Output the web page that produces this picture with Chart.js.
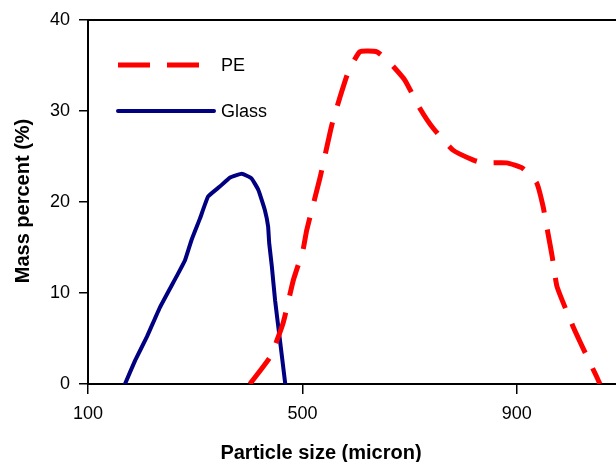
<!DOCTYPE html>
<html>
<head>
<meta charset="utf-8">
<script src="https://cdn.jsdelivr.net/npm/chart.js@4"></script>
<style>
  html, body { margin: 0; padding: 0; background: #fff; }
  #wrap { width: 616px; height: 462px; }
</style>
</head>
<body>
<div id="wrap"><canvas id="chart" width="616" height="462"></canvas></div>
<script>
// data
const glassX = [169, 188, 210, 234, 265, 281, 293, 309, 324, 346, 365, 387, 405, 418, 430, 436, 438, 443, 449, 455, 461, 468];
const glassY = [0, 2.6, 5.2, 8.4, 11.8, 13.6, 15.8, 18.2, 20.6, 21.7, 22.7, 23.1, 22.6, 21.3, 19.1, 17.3, 15.5, 12.9, 9.2, 6.3, 3.4, 0];

const peX = [402, 440, 464, 483, 501, 508, 533, 555, 570, 585, 607, 639, 663, 691, 719, 744, 781, 819, 837, 881, 911, 937, 949, 958, 966, 975, 1005, 1031, 1049, 1055];
const peY = [0, 3, 6.7, 11.4, 14.7, 16.9, 22.7, 28.5, 31.5, 34.2, 36.5, 36.5, 35.3, 33.4, 30.3, 28.1, 25.7, 24.6, 24.3, 24.3, 23.7, 22.1, 19.5, 16.6, 14, 10.7, 6.3, 3, 0.8, 0];

const xTicks = [100, 500, 900];
const yTicks = [0, 10, 20, 30, 40];

const seriesNames = ['PE', 'Glass'];

const RED = '#ff0000';
const NAVY = '#000080';
const PE_DASH = [32, 17];

function toPoints(xs, ys) {
    return xs.map((x, i) => ({ x: x, y: ys[i] }));
}

// legend, frame top and axis titles
const decorations = {
    id: 'decorations',
    afterDraw(chart) {
        const ctx = chart.ctx;
        const area = chart.chartArea;
        ctx.save();

        // top frame line
        ctx.strokeStyle = '#000';
        ctx.lineWidth = 2;
        ctx.beginPath();
        ctx.moveTo(area.left, area.top);
        ctx.lineTo(area.right, area.top);
        ctx.stroke();

        // legend
        ctx.lineCap = 'butt';
        ctx.strokeStyle = RED;
        ctx.lineWidth = 5;
        ctx.setLineDash(PE_DASH);
        ctx.beginPath();
        ctx.moveTo(118, 65);
        ctx.lineTo(202, 65);
        ctx.stroke();

        ctx.setLineDash([]);
        ctx.strokeStyle = NAVY;
        ctx.lineWidth = 4;
        ctx.lineCap = 'round';
        ctx.beginPath();
        ctx.moveTo(118, 111);
        ctx.lineTo(214, 111);
        ctx.stroke();

        ctx.fillStyle = '#000';
        ctx.font = '18px "Liberation Sans", Arial, sans-serif';
        ctx.textAlign = 'left';
        ctx.textBaseline = 'middle';
        ctx.fillText(seriesNames[0], 221, 66);
        ctx.fillText(seriesNames[1], 221, 112);

        // axis titles
        ctx.font = 'bold 20px "Liberation Sans", Arial, sans-serif';
        ctx.textAlign = 'center';
        ctx.textBaseline = 'alphabetic';
        ctx.fillText('Particle size (micron)', 321, 459);

        ctx.translate(29, 201);
        ctx.rotate(-Math.PI / 2);
        ctx.fillText('Mass percent (%)', 0, 0);

        ctx.restore();
    }
};

new Chart(document.getElementById('chart'), {
    type: 'scatter',
    data: {
        datasets: [
            {
                label: seriesNames[0],
                data: toPoints(peX, peY),
                showLine: true,
                borderColor: RED,
                borderWidth: 5,
                borderDash: PE_DASH,
                borderCapStyle: 'butt',
                pointRadius: 0,
                tension: 0.15
            },
            {
                label: seriesNames[1],
                data: toPoints(glassX, glassY),
                showLine: true,
                borderColor: NAVY,
                borderWidth: 4,
                borderCapStyle: 'round',
                borderJoinStyle: 'round',
                pointRadius: 0,
                tension: 0.1
            }
        ]
    },
    options: {
        responsive: false,
        animation: false,
        layout: { padding: { top: 20, right: 0, left: 0, bottom: 0 } },
        plugins: {
            legend: { display: false },
            tooltip: { enabled: false }
        },
        scales: {
            x: {
                type: 'linear',
                min: 100,
                max: 1085,
                afterFit: (scale) => { scale.height = 78; },
                afterBuildTicks: (scale) => { scale.ticks = xTicks.map(v => ({ value: v })); },
                grid: { drawOnChartArea: false, drawTicks: true, tickLength: 10, color: '#000', lineWidth: 1.5 },
                border: { display: true, color: '#000', width: 2 },
                ticks: {
                    color: '#000',
                    padding: 9,
                    font: { family: '"Liberation Sans", Arial, sans-serif', size: 18 }
                }
            },
            y: {
                min: 0,
                max: 40,
                afterFit: (scale) => { scale.width = 88; },
                afterBuildTicks: (scale) => { scale.ticks = yTicks.map(v => ({ value: v })); },
                grid: { drawOnChartArea: false, drawTicks: true, tickLength: 9, color: '#000', lineWidth: 1.5 },
                border: { display: true, color: '#000', width: 2 },
                ticks: {
                    color: '#000',
                    padding: 9,
                    font: { family: '"Liberation Sans", Arial, sans-serif', size: 18 }
                }
            }
        }
    },
    plugins: [decorations]
});
</script>
</body>
</html>
